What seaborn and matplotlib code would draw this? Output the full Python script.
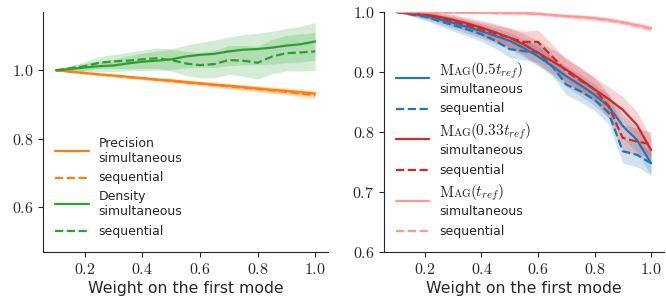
import pandas as pd
import seaborn as sns
import matplotlib.pyplot as plt
from matplotlib.lines import Line2D
from matplotlib.ticker import FuncFormatter
from matplotlib.offsetbox import (AnchoredOffsetbox, DrawingArea, HPacker,
                                  TextArea, VPacker)

# -----------------------
# Data
# -----------------------
weights = [0.1, 0.15, 0.2, 0.25, 0.3, 0.35, 0.4, 0.45, 0.5, 0.55,
           0.6, 0.65, 0.7, 0.75, 0.8, 0.85, 0.9, 0.95, 1.0]

prec_sim = [1.0, 0.996, 0.992, 0.988, 0.985, 0.981, 0.977, 0.973, 0.970, 0.966,
            0.962, 0.958, 0.955, 0.951, 0.947, 0.943, 0.940, 0.936, 0.932]
prec_seq = [1.0, 0.996, 0.992, 0.988, 0.984, 0.980, 0.977, 0.973, 0.969, 0.965,
            0.961, 0.957, 0.953, 0.949, 0.945, 0.941, 0.937, 0.932, 0.927]
prec_err = [0, .002, .003, .003, .004, .004, .005, .005, .006, .006,
            .006, .007, .007, .008, .008, .009, .009, .010, .010]

dens_sim = [1.0, 1.004, 1.008, 1.012, 1.014, 1.020, 1.025, 1.028, 1.032, 1.040,
            1.045, 1.048, 1.055, 1.060, 1.062, 1.066, 1.072, 1.076, 1.084]
dens_seq = [1.0, 1.006, 1.012, 1.022, 1.026, 1.028, 1.032, 1.035, 1.030, 1.020,
            1.015, 1.018, 1.030, 1.028, 1.022, 1.040, 1.050, 1.052, 1.055]
dens_sim_err = [0, .008, .012, .015, .018, .022, .025, .028, .030, .033,
                .036, .040, .042, .044, .046, .048, .050, .052, .055]
dens_seq_err = [0, .008, .013, .017, .020, .024, .027, .030, .032, .035,
                .037, .040, .042, .045, .048, .050, .052, .054, .055]

mag05_sim = [1.0, 0.997, 0.994, 0.988, 0.982, 0.975, 0.968, 0.960, 0.952, 0.940,
             0.926, 0.910, 0.893, 0.878, 0.862, 0.843, 0.810, 0.787, 0.748]
mag05_seq = [1.0, 0.996, 0.992, 0.985, 0.978, 0.971, 0.963, 0.952, 0.938, 0.935,
             0.932, 0.910, 0.879, 0.868, 0.854, 0.832, 0.768, 0.762, 0.748]
mag05_err = [0, .003, .006, .008, .010, .011, .012, .013, .014, .015,
             .016, .016, .017, .018, .018, .019, .020, .020, .020]

mag033_sim = [1.0, 0.998, 0.996, 0.992, 0.987, 0.981, 0.974, 0.966, 0.957, 0.946,
              0.932, 0.918, 0.904, 0.888, 0.871, 0.855, 0.837, 0.812, 0.770]
mag033_seq = [1.0, 0.998, 0.996, 0.991, 0.985, 0.978, 0.971, 0.964, 0.957, 0.950,
              0.950, 0.926, 0.901, 0.886, 0.871, 0.843, 0.790, 0.784, 0.780]
mag033_err = [0, .003, .005, .007, .009, .010, .012, .014, .016, .018,
              .020, .020, .020, .020, .020, .020, .022, .022, .020]

mag1_sim = [1.0, 1.0, 1.0, 1.0, 1.0, 0.999, 0.999, 0.999, 0.999, 0.998,
            0.997, 0.995, 0.993, 0.992, 0.990, 0.987, 0.983, 0.978, 0.973]
mag1_seq = [1.0, 1.0, 0.999, 0.999, 0.999, 0.999, 0.999, 0.998, 0.998, 0.998,
            0.997, 0.995, 0.993, 0.991, 0.989, 0.986, 0.982, 0.977, 0.972]
mag1_err = [0, .001, .001, .001, .002, .002, .002, .002, .003, .003,
            .003, .003, .003, .004, .004, .004, .004, .005, .005]

# legend names as (text, fontsize) pieces; "Mag" is set in small caps by hand
name_prec = [("Precision", 9)]
name_dens = [("Density", 9)]
name_mag05 = [(r"$\mathrm{M}$", 11), (r"$\mathrm{AG}$", 8), (r"$(0.5t_{ref})$", 11)]
name_mag033 = [(r"$\mathrm{M}$", 11), (r"$\mathrm{AG}$", 8), (r"$(0.33t_{ref})$", 11)]
name_mag1 = [(r"$\mathrm{M}$", 11), (r"$\mathrm{AG}$", 8), (r"$(t_{ref})$", 11)]

# -----------------------
# Setup
# -----------------------
sns.set_style("ticks")
plt.rcParams["mathtext.fontset"] = "cm"
plt.rcParams["font.family"] = ["DejaVu Sans"]

C_ORANGE = "#ff7f0e"
C_GREEN = "#2ca02c"
C_BLUE = "#1f77b4"
C_RED = "#d62728"
C_PINK = "#ff9896"


def long_df(series):
    rows = []
    for name, mode, vals, err in series:
        for w, v, e in zip(weights, vals, err):
            rows.append({"w": w, "val": v, "lo": v - e, "hi": v + e,
                         "metric": name, "mode": mode})
    return pd.DataFrame(rows)


left = long_df([
    ("Precision", "simultaneous", prec_sim, prec_err),
    ("Precision", "sequential", prec_seq, prec_err),
    ("Density", "simultaneous", dens_sim, dens_sim_err),
    ("Density", "sequential", dens_seq, dens_seq_err),
])
right = long_df([
    ("mag05", "simultaneous", mag05_sim, mag05_err),
    ("mag05", "sequential", mag05_seq, mag05_err),
    ("mag033", "simultaneous", mag033_sim, mag033_err),
    ("mag033", "sequential", mag033_seq, mag033_err),
    ("mag1", "simultaneous", mag1_sim, mag1_err),
    ("mag1", "sequential", mag1_seq, mag1_err),
])

pal_left = {"Precision": C_ORANGE, "Density": C_GREEN}
pal_right = {"mag05": C_BLUE, "mag033": C_RED, "mag1": C_PINK}
dashes = {"simultaneous": "", "sequential": (3.7, 1.6)}

fig = plt.figure(figsize=(6.66, 3.0), dpi=100)
ax1 = fig.add_axes([0.0646, 0.16, 0.428, 0.8])
ax2 = fig.add_axes([0.5766, 0.16, 0.42, 0.8])


def draw(ax, df, pal):
    for (m, mode), g in df.groupby(["metric", "mode"], sort=False):
        ax.fill_between(g["w"], g["lo"], g["hi"], color=pal[m], alpha=0.2, lw=0)
    sns.lineplot(data=df, x="w", y="val", hue="metric", style="mode",
                 palette=pal, dashes=dashes, lw=1.6, legend=False, ax=ax,
                 errorbar=None)
    ax.set_xlabel("Weight on the first mode", fontsize=11.3, labelpad=3)
    ax.set_ylabel("")
    ax.xaxis.set_major_formatter(FuncFormatter(lambda v, p: f"${v:.1f}$"))
    ax.yaxis.set_major_formatter(FuncFormatter(lambda v, p: f"${v:.1f}$"))
    ax.tick_params(labelsize=11.5, length=3.5, width=0.8)
    ax.set_xticks([0.2, 0.4, 0.6, 0.8, 1.0])
    sns.despine(ax=ax)


draw(ax1, left, pal_left)
ax1.set_ylim(0.47, 1.17)
ax1.set_yticks([0.6, 0.8, 1.0])

draw(ax2, right, pal_right)
ax2.set_ylim(0.6, 1.0)
ax2.set_yticks([0.6, 0.7, 0.8, 0.9, 1.0])


# -----------------------
# Legends (built from offsetboxes so names can mix sizes)
# -----------------------
def build_legend(ax, entries):
    rows = []
    for color, ls, name, label in entries:
        da = DrawingArea(24, 8, 0, 0)
        da.add_artist(Line2D([0, 24], [4, 4], color=color, ls=ls, lw=1.6))
        texts = [TextArea(label, textprops=dict(fontsize=9))]
        if name:
            parts = [TextArea(s, textprops=dict(fontsize=fs)) for s, fs in name]
            texts.insert(0, HPacker(children=parts, align="baseline", pad=0, sep=-1.2))
        col = VPacker(children=texts, align="left", pad=0, sep=1.5)
        rows.append(HPacker(children=[da, col], align="center", pad=0, sep=7.2))
    box = VPacker(children=rows, align="left", pad=0, sep=4.5)
    ab = AnchoredOffsetbox(loc="lower left", child=box, frameon=False, pad=0,
                           borderpad=0, bbox_to_anchor=(0.043, 0.06),
                           bbox_transform=ax.transAxes)
    ax.add_artist(ab)


build_legend(ax1, [
    (C_ORANGE, "-", name_prec, "simultaneous"),
    (C_ORANGE, "--", None, "sequential"),
    (C_GREEN, "-", name_dens, "simultaneous"),
    (C_GREEN, "--", None, "sequential"),
])
build_legend(ax2, [
    (C_BLUE, "-", name_mag05, "simultaneous"),
    (C_BLUE, "--", None, "sequential"),
    (C_RED, "-", name_mag033, "simultaneous"),
    (C_RED, "--", None, "sequential"),
    (C_PINK, "-", name_mag1, "simultaneous"),
    (C_PINK, "--", None, "sequential"),
])

fig.savefig("out.png", dpi=100)
